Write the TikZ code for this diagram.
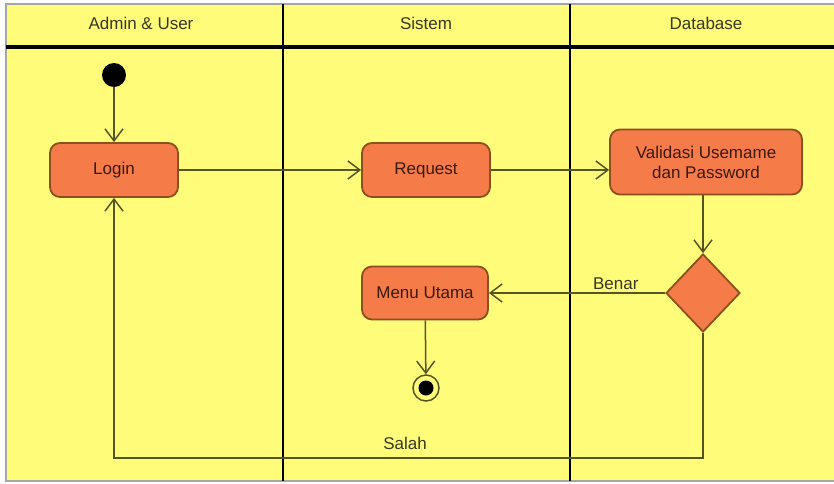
\documentclass[tikz,border=0pt]{standalone}
\usepackage{fontspec}
\setmainfont{Liberation Sans}
\usetikzlibrary{positioning, shapes.geometric, arrows.meta}

\definecolor{laneyellow}{RGB}{255,252,122}
\definecolor{actfill}{RGB}{245,124,72}
\definecolor{actborder}{RGB}{140,80,30}
\definecolor{acttext}{RGB}{60,25,15}
\definecolor{flowline}{RGB}{85,85,35}
\definecolor{headtext}{RGB}{55,55,35}

\begin{document}
\begin{tikzpicture}[x=1pt, y=-1pt,
     act/.style={draw=actborder, line width=1.8pt, fill=actfill, rounded corners=10pt,
          minimum width=128pt, minimum height=54pt, align=center, text=acttext,
          font=\fontsize{17}{20}\selectfont},
     flow/.style={draw=flowline, line width=1.5pt, -{Straight Barb[length=12pt,width=18pt]}},
     head/.style={text=headtext, font=\fontsize{17}{20}\selectfont},
     lbl/.style={text=headtext, font=\fontsize{17}{20}\selectfont}]
               \useasboundingbox (0,0) rectangle (834,483);
               \fill[laneyellow] (6,4) rectangle (834,481);
               \draw[gray!70, line width=1.5pt] (834,4)--(6,4)--(6,481)--(834,481);
               % lanes
               \draw[line width=4.5pt] (6,47)--(834,47);
               \draw[line width=2pt] (283,4)--(283,481);
               \draw[line width=2pt] (570,4)--(570,481);
               \node[head] (hadmin) at (141,23) {Admin \& User};
               \node[head] (hsistem) at (426,23) {Sistem};
               \node[head] (hdb) at (706,23) {Database};
               % nodes
               \node[circle, fill=black, minimum size=24pt, inner sep=0] (start) at (114,75) {};
               \node[act] (login) at (114,170) {Login};
               \node[act] (request) at (426,170) {Request};
               \node[act, minimum width=192pt, minimum height=65pt] (validasi) at (706,162) {Validasi Usemame\\dan Password};
               \node[diamond, draw=actborder, line width=1.8pt, fill=actfill, minimum width=74pt, minimum height=78pt, inner sep=0] (cek) at (703,293) {};
               \node[act, minimum width=126pt, minimum height=53pt] (menu) at (425,293) {Menu Utama};
               \node[circle, draw=flowline, line width=1.5pt, minimum size=26pt, inner sep=0] (stop) at (426,388) {};
               \fill[black] (stop.center) circle (7.5pt);
               \coordinate (c1) at (703,458);
               \coordinate (c2) at (114,458);
               % connectors
               \draw[flow] (start)--(login);
               \draw[flow] (login)--(request);
               \draw[flow] (request)--(validasi.west |- request);
               \draw[flow] (validasi.south -| cek)--(cek.north);
               \draw[flow] (cek.west)--(menu.east) node[lbl, pos=0.28, above=-1pt] (benar) {Benar};
               \draw[flow] (menu)--(stop);
               \draw[flow] (cek.south)--(c1)--(c2)--(login.south);
               \node[lbl] (salah) at (405,443) {Salah};
          \end{tikzpicture}
\end{document}
